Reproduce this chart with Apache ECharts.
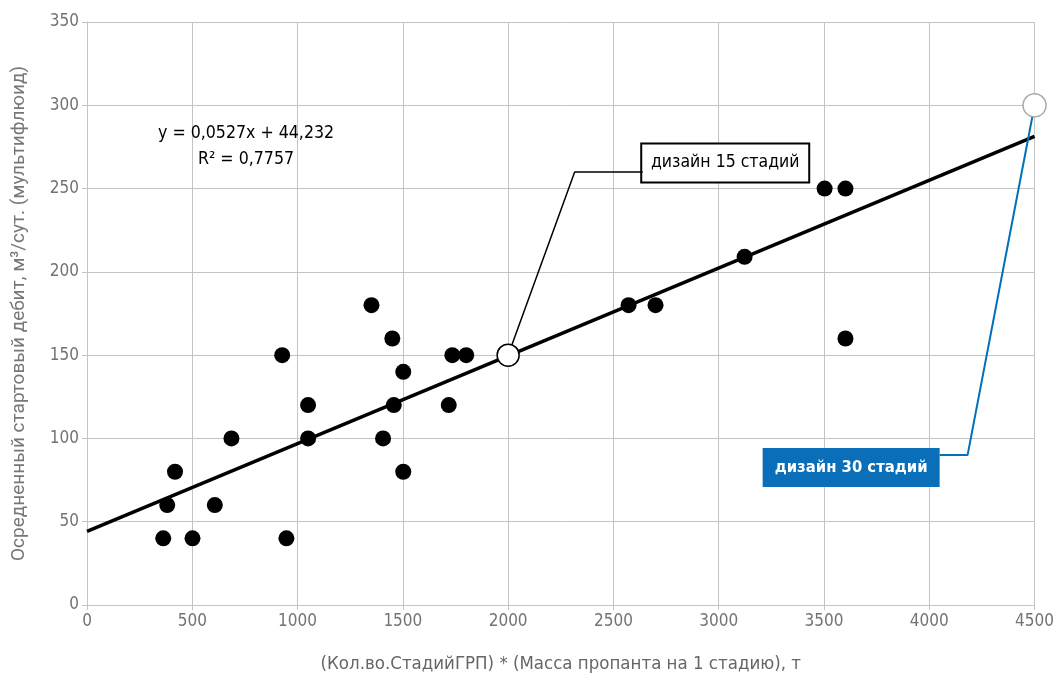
<!DOCTYPE html>
<html><head><meta charset="utf-8">
<script src="https://cdn.jsdelivr.net/npm/echarts@6/dist/echarts.min.js"></script>
<style>html,body{margin:0;padding:0;background:#fff;overflow:hidden}#c{width:1057px;height:688px}</style>
</head><body><div id="c"></div>
<script>
var massX = [362, 381, 418, 501, 607, 686, 927, 947, 1050, 1050, 1351, 1406, 1450, 1457, 1502, 1502, 1718, 1735, 1801, 2572, 2700, 3123, 3503, 3602, 3602];
var rateY = [40, 60, 80, 40, 60, 100, 150, 40, 120, 100, 180, 100, 160, 120, 140, 80, 120, 150, 150, 180, 180, 209, 250, 250, 160];
var trendSlope = 0.0527, trendIntercept = 44.232;
var trendX = [0, 4500];
var design15 = [2000, 150];
var design30 = [4500, 300];
var leader15 = [[2000, 150], [2316, 260], [2639, 260]];
var leader30 = [[4500, 300], [4182, 90], [4049, 90]];
var box15 = [3031, 265.4];
var box30 = [3629, 82.5];
var xTicks = [0, 500, 1000, 1500, 2000, 2500, 3000, 3500, 4000, 4500];
var yTicks = [0, 50, 100, 150, 200, 250, 300, 350];

var COND = '"Liberation Sans Narrow","DejaVu Sans Condensed",sans-serif';
var pts = massX.map(function (x, i) { return [x, rateY[i]]; });
var trend = trendX.map(function (x) { return [x, trendSlope * x + trendIntercept]; });

var chart = echarts.init(document.getElementById('c'));
chart.setOption({
  animation: false,
  grid: { left: 87, right: 20, top: 22, bottom: 83 },
  xAxis: {
    type: 'value', min: 0, max: 4500, interval: 500,
    name: '(Кол.во.СтадийГРП) * (Масса пропанта на 1 стадию), т',
    nameLocation: 'middle', nameGap: 50,
    nameTextStyle: { fontFamily: COND, fontSize: 18.5, color: '#666' },
    axisLine: { show: true, lineStyle: { color: '#c4c4c4', width: 1 } },
    axisTick: { show: true, length: 5, lineStyle: { color: '#c4c4c4' } },
    splitLine: { show: true, lineStyle: { color: '#c4c4c4', width: 1 } },
    axisLabel: { fontFamily: COND, fontSize: 17, color: '#737373', margin: 8,
      formatter: function (v) { return xTicks.indexOf(v) >= 0 ? String(v) : ''; } }
  },
  yAxis: {
    type: 'value', min: 0, max: 350, interval: 50,
    name: 'Осредненный стартовый дебит, м³/сут. (мультифлюид)',
    nameLocation: 'middle', nameGap: 58, nameRotate: 90,
    nameTextStyle: { fontFamily: 'Roboto, sans-serif', fontSize: 19, color: '#777' },
    axisLine: { show: true, lineStyle: { color: '#c4c4c4', width: 1 } },
    axisTick: { show: true, length: 5, lineStyle: { color: '#c4c4c4' } },
    splitLine: { show: true, lineStyle: { color: '#c4c4c4', width: 1 } },
    axisLabel: { fontFamily: COND, fontSize: 17, color: '#737373', margin: 8,
      formatter: function (v) { return yTicks.indexOf(v) >= 0 ? String(v) : ''; } }
  },
  series: [
    {
      type: 'scatter', data: pts, symbolSize: 16, z: 3,
      itemStyle: { color: '#000', opacity: 1 }
    },
    {
      type: 'line', data: trend, showSymbol: false, symbol: 'none', z: 4,
      lineStyle: { color: '#000', width: 3.5 }
    },
    {
      type: 'line', data: leader15, showSymbol: false, symbol: 'none', z: 5,
      lineStyle: { color: '#000', width: 1.5 },
      markPoint: {
        symbol: 'rect', symbolSize: 1, silent: true,
        itemStyle: { color: 'rgba(0,0,0,0)' },
        label: { show: true, position: 'inside', formatter: 'дизайн 15 стадий',
          fontFamily: COND, fontSize: 17.5, color: '#000',
          backgroundColor: '#fff', borderColor: '#000', borderWidth: 2,
          width: 146, height: 19, lineHeight: 19, align: 'center', verticalAlign: 'middle',
          padding: [9, 10, 9, 10] },
        data: [{ coord: box15 }]
      }
    },
    {
      type: 'line', data: leader30, showSymbol: false, symbol: 'none', z: 5,
      lineStyle: { color: '#0070BA', width: 2 },
      markPoint: {
        symbol: 'rect', symbolSize: 1, silent: true,
        itemStyle: { color: 'rgba(0,0,0,0)' },
        label: { show: true, position: 'inside', formatter: 'дизайн 30 стадий',
          fontFamily: COND, fontSize: 16.5, fontWeight: 'bold', color: '#fff',
          backgroundColor: '#0a6fb8',
          width: 157, height: 19, lineHeight: 19, align: 'center', verticalAlign: 'middle',
          padding: [10, 10, 10, 10] },
        data: [{ coord: box30 }]
      }
    },
    {
      type: 'scatter', data: [design15], symbolSize: 22, z: 6,
      itemStyle: { color: '#fff', borderColor: '#000', borderWidth: 1.5, opacity: 1 }
    },
    {
      type: 'scatter', data: [design30], symbolSize: 23, z: 6,
      itemStyle: { color: '#fff', borderColor: '#aaa', borderWidth: 1.5, opacity: 1 }
    }
  ],
  graphic: [
    { type: 'text', left: 158, top: 124, z: 10,
      style: { text: 'y = 0,0527x + 44,232', font: '17.6px ' + COND, fill: '#000' } },
    { type: 'text', left: 198, top: 150, z: 10,
      style: { text: 'R² = 0,7757', font: '17.6px ' + COND, fill: '#000' } }
  ]
});
</script></body></html>
